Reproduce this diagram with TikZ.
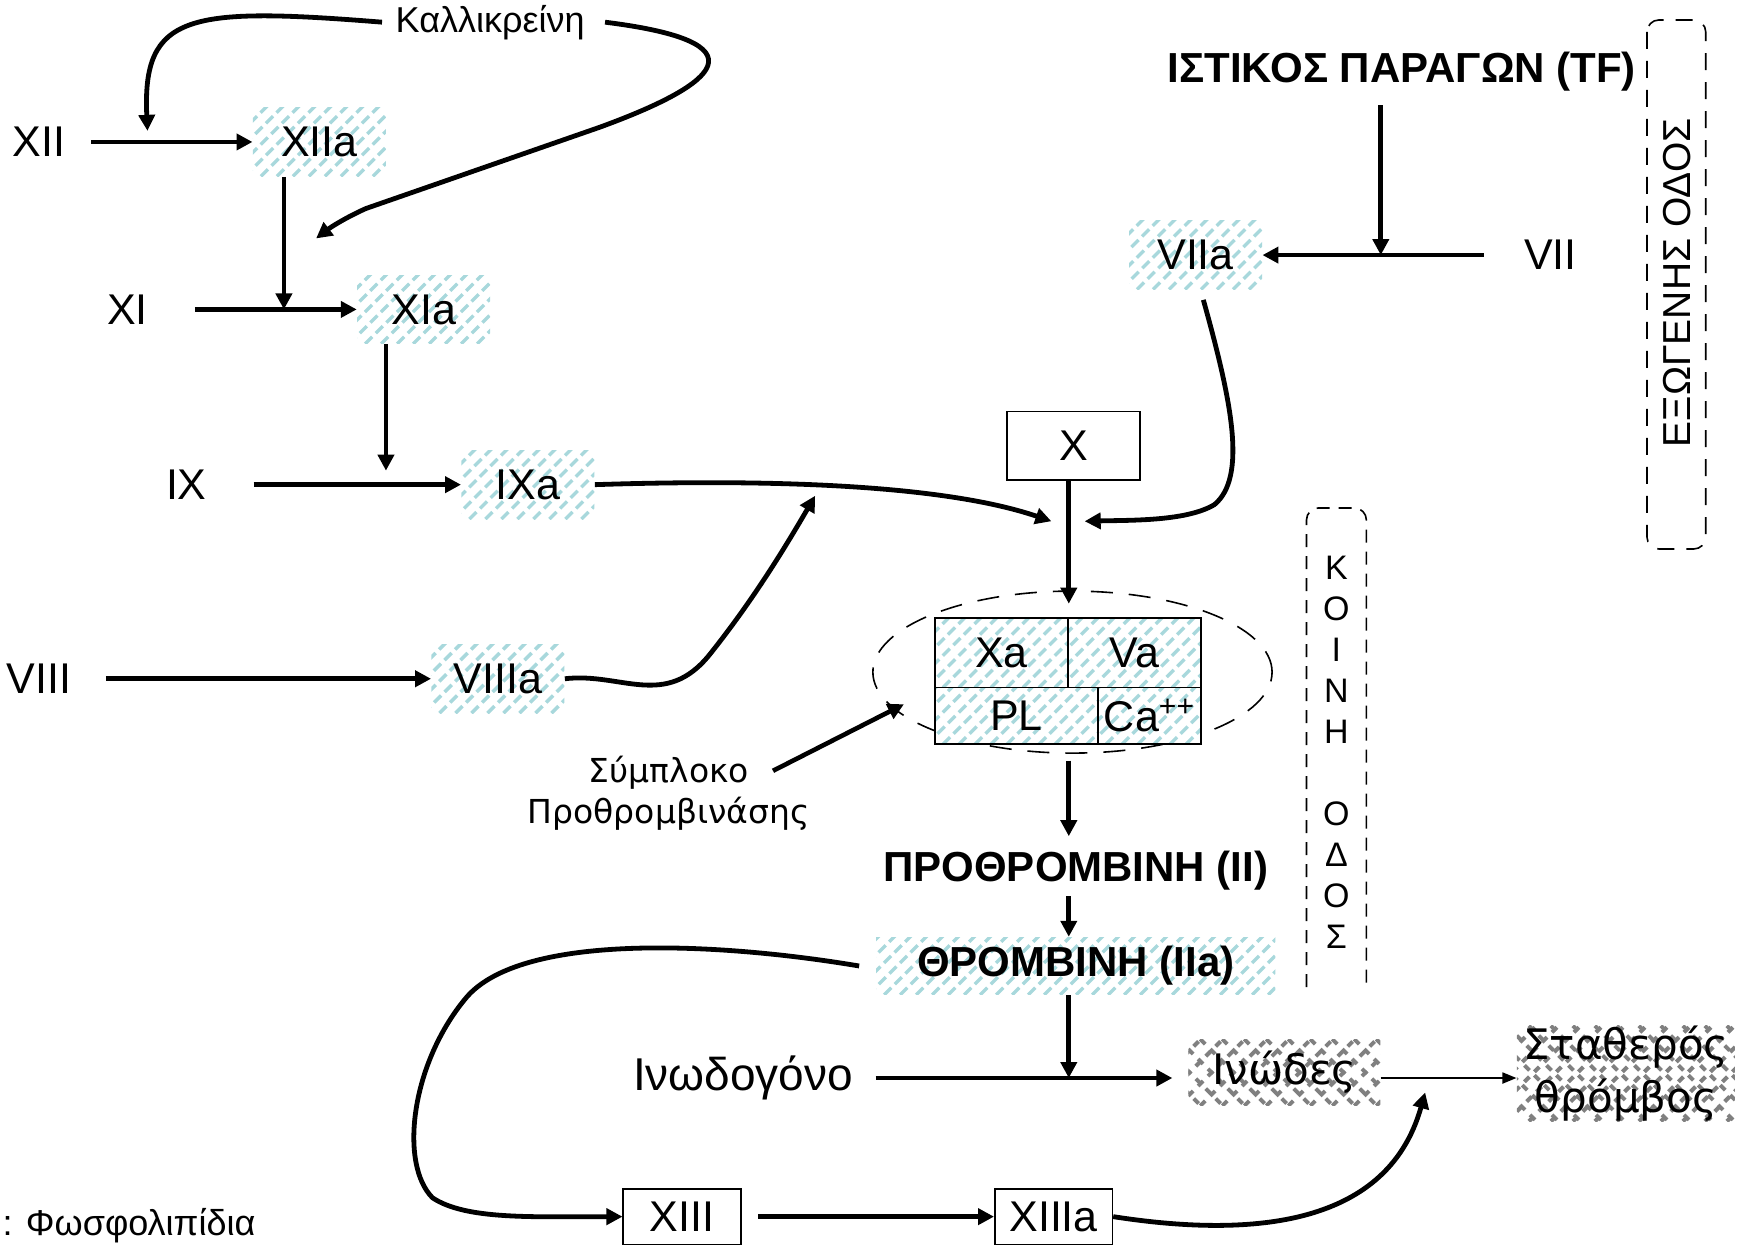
\documentclass[tikz,border=0pt]{standalone}
\usepackage{fontspec}
\setmainfont{Liberation Sans}
\newfontfamily\dvs{DejaVu Sans}
\usetikzlibrary{arrows.meta,shapes.geometric,calc}
\definecolor{hatchc}{RGB}{168,216,220}
\definecolor{checkc}{RGB}{128,128,128}
\tikzset{
  hatch/.style={path picture={
    \foreach \k in {0,...,36}{
      \draw[hatchc, line width=1.7pt, dash pattern=on 5pt off 2.5pt]
        ([xshift=\k*8pt-60pt]path picture bounding box.south west) -- ++(62pt,62pt);
    }}},
  checker/.style={path picture={
    \foreach \k in {0,...,20}{
      \draw[checkc, line width=2pt, dash pattern=on 3.5pt off 3.5pt]
        ([xshift=\k*11pt-60pt]path picture bounding box.south west) -- ++(62pt,62pt);
      \draw[checkc, line width=2pt, dash pattern=on 3.5pt off 3.5pt]
        ([xshift=\k*11pt-60pt]path picture bounding box.north west) -- ++(62pt,-62pt);
    }}},
  lab/.style={inner sep=0pt, font=\fontsize{21.5}{25}\selectfont},
  blab/.style={inner sep=0pt, font=\fontsize{21}{25}\selectfont\bfseries},
  hbox/.style={hatch, inner sep=0pt, minimum width=66.5pt, minimum height=34.4pt, font=\fontsize{21.5}{25}\selectfont},
  wbox/.style={draw, line width=0.8pt, inner sep=0pt, font=\fontsize{21.5}{25}\selectfont},
  cell/.style={draw, line width=0.8pt, fill=white, hatch, inner sep=0pt, font=\fontsize{21.5}{25}\selectfont},
  arr/.style={line width=2.3pt, -{Triangle[length=8pt,width=8pt]}},
  thinarr/.style={line width=0.9pt, -{Triangle[length=7pt,width=5.5pt]}},
  curve/.style={line width=2.4pt, -{Triangle[length=8pt,width=8pt]}},
  dashbox/.style={line width=0.8pt, dash pattern=on 6.5pt off 4.5pt, rounded corners=6pt},
}
\begin{document}
\begin{tikzpicture}[x=0.5545pt,y=-0.5545pt]
\useasboundingbox (0,0) rectangle (1568,1123);
% intrinsic pathway
\node[lab] (XII) at (35,128) {XII};
\node[hbox] (XIIa) at (288,128) {XIIa};
\node[lab] (XI) at (115,279) {XI};
\node[hbox] (XIa) at (382,279) {XIa};
\node[lab] (IX) at (168,437) {IX};
\node[hbox] (IXa) at (476,437) {IXa};
\node[lab] (VIII) at (35,612) {VIII};
\node[hbox] (VIIIa) at (449,612) {VIIIa};
\node[inner sep=0pt, font=\fontsize{18}{20}\selectfont] (kal) at (442,20) {Καλλικρείνη};
% extrinsic pathway
\node[blab] (TF) at (1264,65) {ΙΣΤΙΚΟΣ ΠΑΡΑΓΩΝ (TF)};
\node[hbox] (VIIa) at (1078,230) {VIIa};
\node[lab] (VII) at (1398,230) {VII};
\node[rotate=90, inner sep=0pt, font=\fontsize{19.5}{22}\selectfont] (exo) at (1512,255) {ΕΞΩΓΕΝΗΣ ΟΔΟΣ};
\draw[dashbox, dash pattern=on 8.5pt off 6pt] (1485,18) rectangle (1538,495);
% common pathway
\draw[dashbox] (1178,890) -- (1178,458) -- (1232,458) -- (1232,890);
\node[align=center, inner sep=0pt, font=\fontsize{17}{20.5}\selectfont] (KO) at (1205,678) {Κ\\Ο\\Ι\\Ν\\Η\\[20.5pt]Ο\\Δ\\Ο\\Σ};
\node[wbox, minimum width=66.5pt, minimum height=34.4pt] (X) at (968,402) {X};
\node[ellipse, draw, line width=0.8pt, dash pattern=on 11pt off 8pt, minimum width=199.6pt, minimum height=81pt, inner sep=0pt] (E) at (967,606) {};
\node[cell, minimum width=66.5pt, minimum height=34.9pt] (Xa) at (903,588.5) {Xa};
\node[cell, minimum width=66.5pt, minimum height=34.9pt] (Va) at (1023,588.5) {Va};
\node[cell, minimum width=81.5pt, minimum height=28.3pt] (PL) at (916.5,645.5) {PL};
\node[cell, minimum width=51.6pt, minimum height=28.3pt] (Ca) at (1036.5,645.5) {Ca\textsuperscript{++}};
\node[font=\dvs\fontsize{16.5}{20.5}\selectfont, align=center, inner sep=0pt] (SYM) at (603,715) {Σύμπλοκο\\Προθρομβινάσης};
\node[blab] (PRO) at (970,785) {ΠΡΟΘΡΟΜΒΙΝΗ (II)};
\node[hatch, inner sep=0pt, minimum width=199.6pt, minimum height=28.8pt, font=\fontsize{21}{25}\selectfont\bfseries] (TH) at (970,871) {ΘΡΟΜΒΙΝΗ (IIa)};
\node[lab, font=\fontsize{23}{25}\selectfont] (INO) at (670,972) {Ινωδογόνο};
\node[checker, inner sep=0pt, minimum width=96pt, minimum height=33.3pt, font=\dvs\fontsize{21}{25}\selectfont] (INW) at (1158,967) {Ινώδες};
\node[checker, inner sep=0pt, minimum width=109pt, minimum height=47pt, align=center, font=\dvs\fontsize{21}{26.6}\selectfont] (STA) at (1466,968) {Σταθερός\\θρόμβος};
\node[wbox, minimum width=58.8pt, minimum height=27.7pt] (XIII) at (615,1097) {XIII};
\node[wbox, minimum width=58.8pt, minimum height=27.7pt] (XIIIa) at (950,1097) {XIIIa};
\node[anchor=west, inner sep=0pt, font=\fontsize{18}{22}\selectfont] (leg) at (2,1105) {: Φωσφολιπίδια};
% coordinates
\coordinate (cx) at (Xa.north east);
\coordinate (a1) at ($(XIIa.south)+(-32,0)$);
\coordinate (a2) at ($(XIa.south)+(-34,0)$);
\coordinate (t1) at ($(TF.south)+(-19,12)$);
\coordinate (kL) at (133,118);
\coordinate (kR) at (285,215);
\coordinate (jA) at (948,470);
\coordinate (jB) at (978,470);
\coordinate (jV) at (735,447);
\coordinate (s1) at (697,695);
\coordinate (s2) at (815,635);
\coordinate (jF) at (1285,985);
% connectors
\draw[arr] ($(XII.east)+(23,0)$) -- (XIIa.west);
\draw[arr] (a1) -- (a1 |- XIa.west);
\draw[arr] ($(XI.east)+(42,0)$) -- (XIa.west);
\draw[arr, shorten >=7pt] (a2) -- (a2 |- IXa.west);
\draw[arr] ($(IX.east)+(42,0)$) -- (IXa.west);
\draw[arr] ($(VIII.east)+(31,0)$) -- (VIIIa.west);
\draw[curve] ($(kal.west)+(-12,0)$) .. controls (170,6) and (128,12) .. (kL);
\draw[curve] ($(kal.east)+(18,0)$) .. controls (690,38) and (650,75) .. (540,115) -- (330,188) .. controls (312,196) and (298,205) .. (kR);
\draw[curve] (IXa.east) .. controls (720,431) and (860,440) .. (jA);
\draw[curve] (VIIIa.east) .. controls (560,606) and (600,640) .. (640,590) .. controls (680,540) and (710,490) .. (jV);
\draw[arr] (t1) -- (t1 |- VIIa.east);
\draw[arr] ($(VII.west)+(-36,0)$) -- (VIIa.east);
\draw[curve] ($(VIIa.south)+(7,9)$) .. controls (1110,360) and (1125,430) .. (1095,455) .. controls (1070,470) and (1020,469) .. (jB);
\draw[arr] (X.south -| cx) -- ($(cx)+(0,-12)$);
\draw[arr] (s1) -- (s2);
\draw[arr] ($(cx |- PL.south)+(0,14)$) -- ($(cx |- PRO.north)+(0,-13)$);
\draw[arr] ($(cx |- PRO.south)+(0,5)$) -- (cx |- TH.north);
\draw[arr] (TH.south -| cx) -- (cx |- INO.east);
\draw[arr] ($(INO.east)+(20,0)$) -- ($(INW.west |- INO.east)+(-14,0)$);
\draw[thinarr] (INW.east |- INO.east) -- (STA.west |- INO.east);
\draw[curve] ($(TH.west)+(-15,0)$) .. controls (650,850) and (470,840) .. (420,900) .. controls (370,960) and (360,1050) .. (390,1080) .. controls (420,1100) and (480,1097) .. (XIII.west);
\draw[arr] ($(XIII.east)+(15,0)$) -- (XIIIa.west);
\draw[curve] (XIIIa.east) .. controls (1120,1115) and (1250,1110) .. (jF);
\end{tikzpicture}
\end{document}
